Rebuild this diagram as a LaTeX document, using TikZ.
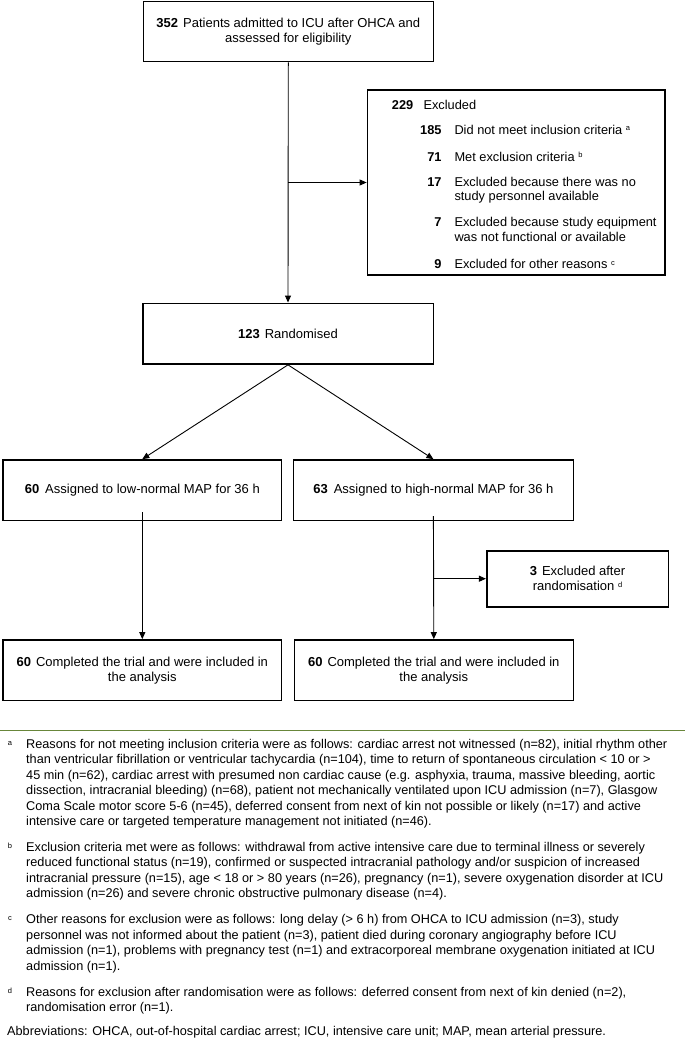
\documentclass[tikz,border=0pt]{standalone}
\usepackage{fontspec}
\setmainfont{Liberation Sans}
\usetikzlibrary{arrows.meta}
\definecolor{sepgreen}{RGB}{104,134,58}
\newcommand{\supl}[1]{\raisebox{3.5pt}{\fontsize{7.5}{8}\selectfont #1}}
\newcommand{\bxfont}{\fontsize{13}{15}\selectfont}
\newcommand{\exfont}{\fontsize{12.8}{15}\selectfont}
\newcommand{\fnfont}{\fontsize{12.7}{15.4}\selectfont}
\tikzset{
  box/.style={draw=black, line width=1.6pt, inner sep=0pt, align=center, font=\bxfont},
  arr/.style={line width=0.9pt, -{Triangle[length=7pt,width=6pt]}},
  txt/.style={inner sep=0pt, font=\exfont},
  fn/.style={inner sep=0pt, anchor=base west},
  mk/.style={inner sep=0pt, anchor=base, font=\fontsize{7.5}{8}\selectfont},
}
\begin{document}
\begin{tikzpicture}[x=1pt,y=-1pt]
\useasboundingbox (0,0) rectangle (685,1038);

% boxes
\node[box, minimum width=290pt, minimum height=60pt] (top) at (288.3,31.7)
  {\fontsize{13}{17.7}\selectfont\textbf{352}\hspace{5pt}Patients admitted to ICU after OHCA and\\assessed for eligibility};
\node[box, minimum width=297.5pt, minimum height=185pt] (excl) at (516.2,182.5) {};
\node[box, minimum width=290.6pt, minimum height=60.7pt] (rand) at (288,333.7)
  {\textbf{123}\hspace{5pt}Randomised};
\node[box, minimum width=278.7pt, minimum height=60.7pt] (la) at (142.3,490.3)
  {\textbf{60}\hspace{6pt}Assigned to low-normal MAP for 36 h};
\node[box, minimum width=279.8pt, minimum height=60.7pt] (ra) at (433.4,490.3)
  {\textbf{63}\hspace{6pt}Assigned to high-normal MAP for 36 h};
\node[box, minimum width=181.6pt, minimum height=56pt] (xa) at (577.5,578.7)
  {\fontsize{13}{14.7}\selectfont\textbf{3}\hspace{5pt}Excluded after\\randomisation \supl{d}};
\node[box, minimum width=278.7pt, minimum height=60.7pt] (lb) at (142.3,670.3)
  {\textbf{60}\hspace{5pt}Completed the trial and were included in\\the analysis};
\node[box, minimum width=279pt, minimum height=60.7pt] (rb) at (433.8,670.3)
  {\textbf{60}\hspace{5pt}Completed the trial and were included in\\the analysis};

% exclusion box contents
\node[txt, anchor=base west] (n229) at (391.7,109.5) {\textbf{229}};
\node[txt, anchor=base west] (t229) at (423.3,109.5) {Excluded};
\node[txt, anchor=base east] (n185) at (441.7,134.5) {\textbf{185}};
\node[txt, anchor=base west] (t185) at (454.3,134.5) {Did not meet inclusion criteria \supl{a}};
\node[txt, anchor=base east] (n71) at (441.7,161.2) {\textbf{71}};
\node[txt, anchor=base west] (t71) at (454.3,161.2) {Met exclusion criteria \supl{b}};
\node[txt, anchor=base east] (n17) at (441.7,186.2) {\textbf{17}};
\node[txt, anchor=base west] (t17a) at (454.3,186.2) {Excluded because there was no};
\node[txt, anchor=base west] (t17b) at (454.3,200.6) {study personnel available};
\node[txt, anchor=base east] (n7) at (441.7,226.8) {\textbf{7}};
\node[txt, anchor=base west] (t7a) at (454.3,226.8) {Excluded because study equipment};
\node[txt, anchor=base west] (t7b) at (454.3,241.2) {was not functional or available};
\node[txt, anchor=base east] (n9) at (441.7,268.5) {\textbf{9}};
\node[txt, anchor=base west] (t9) at (454.3,268.5) {Excluded for other reasons \supl{c}};

% connectors
\draw[arr] (top.south) -- (rand.north);
\draw[arr] (top.south |- excl.west) -- (excl.west);
\draw[arr] (rand.south) -- (la.north);
\draw[arr] (rand.south) -- (ra.north);
\coordinate (lstart) at (142.3,512);
\coordinate (rstart) at (433.4,516);
\draw[arr] (lstart) -- (lb.north);
\draw[arr] (rstart) -- (rb.north);
\draw[arr] (rstart |- xa.west) -- (xa.west);

% separator
\coordinate (sepl) at (0,730);
\coordinate (sepr) at (685,730);
\draw[sepgreen, line width=1pt] (sepl) -- (sepr);

% footnotes
\node[mk] (ma) at (10,745.4) {a};
\node[fn] (fa) at (26,748.4) {\parbox[t]{680pt}{\fnfont\raggedright
Reasons for not meeting inclusion criteria were as follows: cardiac arrest not witnessed (n=82), initial rhythm other\\
than ventricular fibrillation or ventricular tachycardia (n=104), time to return of spontaneous circulation < 10 or >\\
45 min (n=62), cardiac arrest with presumed non cardiac cause (e.g. asphyxia, trauma, massive bleeding, aortic\\
dissection, intracranial bleeding) (n=68), patient not mechanically ventilated upon ICU admission (n=7), Glasgow\\
Coma Scale motor score 5-6 (n=45), deferred consent from next of kin not possible or likely (n=17) and active\\
intensive care or targeted temperature management not initiated (n=46).}};
\node[mk] (mb) at (10,848.5) {b};
\node[fn] (fb) at (26,851.5) {\parbox[t]{680pt}{\fnfont\raggedright
Exclusion criteria met were as follows: withdrawal from active intensive care due to terminal illness or severely\\
reduced functional status (n=19), confirmed or suspected intracranial pathology and/or suspicion of increased\\
intracranial pressure (n=15), age < 18 or > 80 years (n=26), pregnancy (n=1), severe oxygenation disorder at ICU\\
admission (n=26) and severe chronic obstructive pulmonary disease (n=4).}};
\node[mk] (mc) at (10,920.8) {c};
\node[fn] (fc) at (26,923.8) {\parbox[t]{680pt}{\fnfont\raggedright
Other reasons for exclusion were as follows: long delay (> 6 h) from OHCA to ICU admission (n=3), study\\
personnel was not informed about the patient (n=3), patient died during coronary angiography before ICU\\
admission (n=1), problems with pregnancy test (n=1) and extracorporeal membrane oxygenation initiated at ICU\\
admission (n=1).}};
\node[mk] (md) at (10,993.1) {d};
\node[fn] (fd) at (26,996.1) {\parbox[t]{680pt}{\fnfont\raggedright
Reasons for exclusion after randomisation were as follows: deferred consent from next of kin denied (n=2),\\
randomisation error (n=1).}};
\node[fn, font=\fnfont] (abbr) at (7,1035.8)
  {Abbreviations: OHCA, out-of-hospital cardiac arrest; ICU, intensive care unit; MAP, mean arterial pressure.};
\end{tikzpicture}
\end{document}
